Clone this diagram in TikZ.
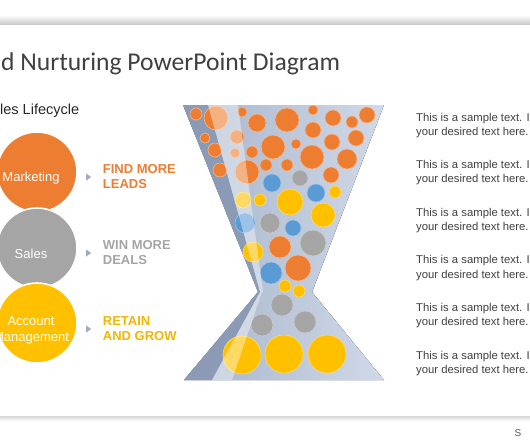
\documentclass[tikz,border=0pt]{standalone}
\usepackage{fontspec}
\setmainfont{Liberation Sans}
\newfontfamily\titlefont{Carlito}
\usetikzlibrary{shapes.geometric,positioning}

\definecolor{mktorange}{HTML}{ED7D31}
\definecolor{salesgray}{HTML}{A5A5A5}
\definecolor{acctyellow}{HTML}{FFC000}
\definecolor{dropblue}{HTML}{5B9BD5}
\definecolor{funnelhi}{HTML}{D0D9E8}
\definecolor{funnellow}{HTML}{A6B4CB}
\definecolor{funneldark}{HTML}{8B9BB5}
\definecolor{inktext}{HTML}{404040}
\definecolor{pointergray}{HTML}{A3AAB8}

\tikzset{
  stage/.style={circle, draw=white, line width=1.6pt, minimum size=80pt, inner sep=0pt},
  stagetxt/.style={text=white, align=center, inner sep=0pt, font=\fontsize{13}{16}\selectfont},
  pointer/.style={isosceles triangle, isosceles triangle stretches, fill=pointergray,
    minimum width=7pt, minimum height=5pt, inner sep=0pt},
  goal/.style={align=left, inner sep=0pt, font=\bfseries\fontsize{13}{15}\selectfont},
  sample/.style={anchor=base west, align=left, inner sep=0pt, text=inktext,
    font=\fontsize{11.3}{14.3}\selectfont},
  drop/.style={line width=0.6pt},
}

\begin{document}
\begin{tikzpicture}[x=1pt, y=-1pt, node distance=11pt]
    \useasboundingbox (0,0) rectangle (530,442);
    \clip (0,0) rectangle (530,442);

    % Slide
    \fill[top color=white, bottom color=black!20] (0,15) rectangle (530,24);
    \fill[top color=black!16, bottom color=white] (0,416) rectangle (530,421);
    \node[anchor=base west, inner sep=0pt, text=inktext, font=\titlefont\fontsize{25.6}{30}\selectfont]
        (title) at (1,70.5) {d Nurturing PowerPoint Diagram};
    \node[anchor=base west, inner sep=0pt, text=black!85, font=\fontsize{14.5}{17}\selectfont]
        (cycle) at (0,114) {les Lifecycle};
    \node[anchor=base, inner sep=0pt, text=black!65, font=\fontsize{10}{12}\selectfont]
        (brand) at (518,436) {S};

    % Stages
    \node[stage, fill=mktorange] (mkt) at (37,172) {};
    \node[stage, fill=salesgray] (sales) at (37,248) {};
    \node[stage, fill=acctyellow] (acct) at (37,323) {};
    \node[stagetxt] (mkttxt) at (31,178.5) {Marketing};
    \node[stagetxt] (salestxt) at (31,254) {Sales};
    \node[stagetxt] (accttxt) at (31,330.5) {Account\\Management};

    % Pointers
    \node[pointer] (p1) at (88,177) {};
    \node[pointer] (p2) at (88,253) {};
    \node[pointer] (p3) at (88,329) {};
    \node[goal, text=mktorange, right=of p1] (leads) {FIND MORE\\LEADS};
    \node[goal, text=salesgray, right=of p2] (deals) {WIN MORE\\DEALS};
    \node[goal, text=acctyellow!95!black, right=of p3] (grow) {RETAIN\\AND GROW};

    % Funnel
    \coordinate (tl) at (183,105);
    \coordinate (tr) at (384,105);
    \coordinate (wl) at (258,292);
    \coordinate (wr) at (312,292);
    \coordinate (bl) at (184,380);
    \coordinate (br) at (384,380);
    \fill[left color=funnellow, right color=funnelhi]
        (tl) -- (tr) -- (wr) -- (br) -- (bl) -- (wl) -- cycle;
    \fill[funneldark] (tl) -- (208,105) -- (260,292) -- (wl) -- cycle;
    \fill[funneldark] (bl) -- (212,380) -- (260,292) -- (wl) -- cycle;
    \begin{scope}
        \clip (tl) -- (tr) -- (wr) -- (br) -- (bl) -- (wl) -- cycle;
        \foreach \x/\y/\r in {196/114/6, 216/118/12, 242/112/5, 257/123/9, 287/120/12,
            313/110/5, 333/118/8, 352/122/6, 367/115/8, 313/130/8, 296/144/5, 332/142/8,
            356/138/8, 273/147/12, 312/157/12, 347/159/10, 205/138/5, 215/150/7,
            237/137/7, 235/153/5, 252/152/6, 220/170/7, 247/172/12, 266/165/6,
            287/165/6, 331/175/8, 280/247/11, 298/268/13}
            \fill[drop, mktorange, draw=mktorange!55!white] (\x,\y) circle[radius=\r pt];
        \foreach \x/\y/\r in {300/178/8, 270/223/10, 313/243/13, 282/305/11, 262/325/11, 305/322/11}
            \fill[drop, salesgray, draw=salesgray!60!white] (\x,\y) circle[radius=\r pt];
        \foreach \x/\y/\r in {272/183/9, 316/193/9, 293/228/8, 245/223/10, 271/273/11}
            \fill[drop, dropblue, draw=dropblue!60!white] (\x,\y) circle[radius=\r pt];
        \foreach \x/\y/\r in {335/192/6, 260/200/6, 290/202/13, 243/200/8, 323/215/12,
            253/252/10, 285/286/6, 299/291/6, 242/355/19, 284/354/19, 327/354/19}
            \fill[drop, acctyellow, draw=acctyellow!60!white] (\x,\y) circle[radius=\r pt];
        \fill[white, opacity=0.4] (208,105) -- (238,105) -- (263,292) -- (260,292) -- cycle;
        \fill[white, opacity=0.4] (212,380) -- (232,380) -- (262,292) -- (260,292) -- cycle;
    \end{scope}

    % Text
    \foreach \i in {0,...,5}
        \node[sample] (txt\i) at (416,135.3+47.6*\i) {This is a sample text. I\\your desired text here.};
\end{tikzpicture}
\end{document}
